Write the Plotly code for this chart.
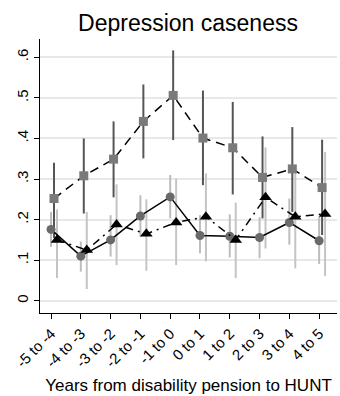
import plotly.graph_objects as go

categories = ["-5 to -4", "-4 to -3", "-3 to -2", "-2 to -1", "-1 to 0",
              "0 to 1", "1 to 2", "2 to 3", "3 to 4", "4 to 5"]

# Series 1: circles, solid line
circ = [0.176, 0.110, 0.150, 0.209, 0.256, 0.161, 0.159, 0.156, 0.193, 0.148]
circ_lo = [0.133, 0.072, 0.109, 0.158, 0.203, 0.117, 0.107, 0.105, 0.138, 0.091]
circ_hi = [0.219, 0.146, 0.211, 0.260, 0.310, 0.211, 0.213, 0.206, 0.252, 0.207]

# Series 2: squares, dashed line
sq = [0.252, 0.308, 0.349, 0.442, 0.506, 0.401, 0.377, 0.304, 0.325, 0.279]
sq_lo = [0.155, 0.215, 0.255, 0.351, 0.396, 0.285, 0.262, 0.203, 0.219, 0.162]
sq_hi = [0.340, 0.400, 0.442, 0.533, 0.617, 0.518, 0.490, 0.405, 0.428, 0.397]

# Series 3: triangles, dash-dot line
tri = [0.150, 0.125, 0.188, 0.165, 0.193, 0.207, 0.150, 0.255, 0.207, 0.214]
tri_lo = [0.056, 0.029, 0.088, 0.074, 0.088, 0.097, 0.056, 0.129, 0.080, 0.061]
tri_hi = [0.225, 0.219, 0.287, 0.250, 0.301, 0.314, 0.242, 0.378, 0.332, 0.367]

offsets = {"circ": 0.0, "sq": 0.1, "tri": 0.2}
yticks = [0, 0.1, 0.2, 0.3, 0.4, 0.5, 0.6]
ytick_text = ["0", ".1", ".2", ".3", ".4", ".5", ".6"]

FONT = "Liberation Sans, Arial, sans-serif"


def bars(xs, lo, hi):
    bx, by = [], []
    for x, l, h in zip(xs, lo, hi):
        bx += [x, x, None]
        by += [l, h, None]
    return bx, by


fig = go.Figure()
n = len(categories)
xc = [i + offsets["circ"] for i in range(n)]
xs = [i + offsets["sq"] for i in range(n)]
xt = [i + offsets["tri"] for i in range(n)]

for xx, lo, hi, col in [(xc, circ_lo, circ_hi, "#bdbdbd"),
                        (xs, sq_lo, sq_hi, "#555555"),
                        (xt, tri_lo, tri_hi, "#c4c4c4")]:
    bx, by = bars(xx, lo, hi)
    fig.add_trace(go.Scatter(x=bx, y=by, mode="lines",
                             line=dict(color=col, width=2),
                             hoverinfo="skip", showlegend=False))

fig.add_trace(go.Scatter(x=xs, y=sq, mode="lines+markers",
                         line=dict(color="black", width=1.5, dash="9px,6px"),
                         marker=dict(symbol="square", size=9, color="#7a7a7a"),
                         showlegend=False))
fig.add_trace(go.Scatter(x=xc, y=circ, mode="lines+markers",
                         line=dict(color="black", width=1.5),
                         marker=dict(symbol="circle", size=9, color="#6a6a6a"),
                         showlegend=False))
fig.add_trace(go.Scatter(x=xt, y=tri, mode="lines+markers",
                         line=dict(color="black", width=1.5, dash="8px,5px,2px,5px"),
                         marker=dict(symbol="triangle-up", size=11, color="black"),
                         showlegend=False))

fig.update_layout(
    width=340, height=396,
    margin=dict(l=40, r=3, t=39, b=83),
    paper_bgcolor="white", plot_bgcolor="white",
    font=dict(family=FONT, color="black"),
    title=dict(text="Depression caseness", x=0.553, xanchor="center",
               y=0.942, yanchor="middle",
               font=dict(size=23, family=FONT, color="black")),
    xaxis=dict(range=[-0.37, 9.6], tickmode="array",
               tickvals=list(range(n)), ticktext=categories,
               tickangle=-45, tickfont=dict(size=15),
               showline=True, linecolor="black", linewidth=1,
               ticks="outside", ticklen=5, tickcolor="black",
               showgrid=False, zeroline=False,
               title=dict(text="Years from disability pension to HUNT",
                          font=dict(size=17), standoff=9)),
    yaxis=dict(range=[-0.03, 0.645], tickmode="array",
               tickvals=yticks, ticktext=ytick_text,
               tickangle=-90, tickfont=dict(size=15),
               showline=True, linecolor="black", linewidth=1,
               ticks="outside", ticklen=5, tickcolor="black",
               showgrid=True, gridcolor="#e8e8e8", gridwidth=1.5,
               zeroline=False),
)

fig.write_html("out.html")
